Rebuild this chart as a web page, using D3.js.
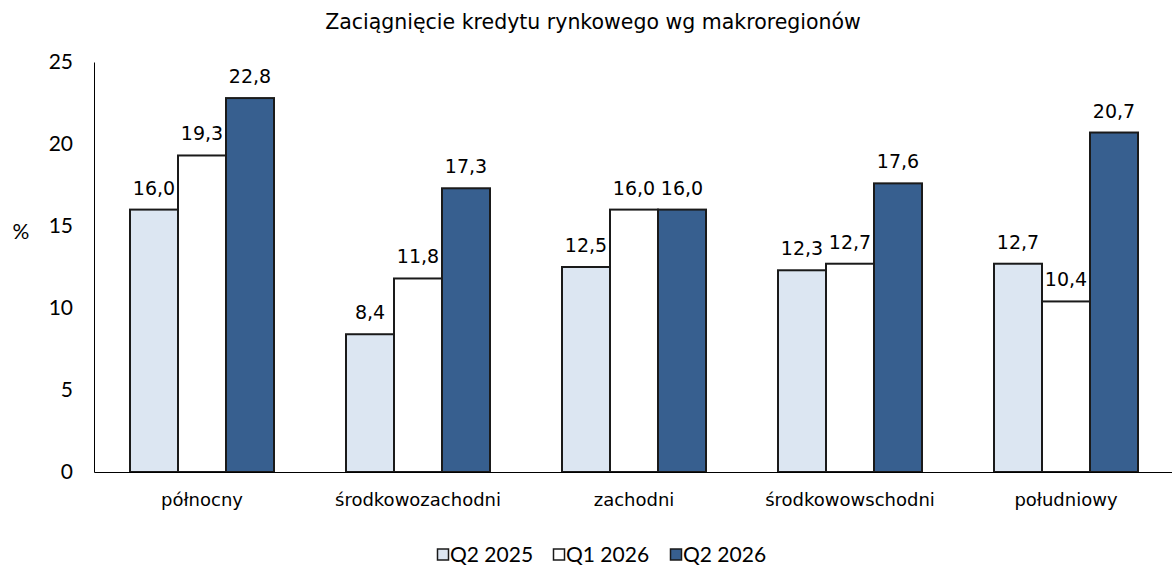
<!DOCTYPE html>
<html>
<head>
<meta charset="utf-8">
<script src="https://cdn.jsdelivr.net/npm/d3@7"></script>
<style>
  html, body { margin: 0; padding: 0; background: #fff; }
  svg { display: block; }
</style>
</head>
<body>
<svg id="chart" width="1172" height="571"></svg>
<script>
// Regions (makroregiony) and share of firms taking market credit, in %
const categories = ["północny", "środkowozachodni", "zachodni", "środkowowschodni", "południowy"];
const seriesNames = ["Q2 2025", "Q1 2026", "Q2 2026"];
const q2_2025 = [16.0, 8.4, 12.5, 12.3, 12.7];
const q1_2026 = [19.3, 11.8, 16.0, 12.7, 10.4];
const q2_2026 = [22.8, 17.3, 16.0, 17.6, 20.7];
const yTicks = [0, 5, 10, 15, 20, 25];
const title = "Zaciągnięcie kredytu rynkowego wg makroregionów";

const seriesValues = [q2_2025, q1_2026, q2_2026];
const fills = ["#dce6f2", "#ffffff", "#375f8f"];

const svg = d3.select("#chart");
const mainFont = "'DejaVu Sans', Verdana, sans-serif";
const numFont = "Lato, 'Open Sans', sans-serif";

const plot = { left: 94, right: 1174, top: 62, bottom: 472 };

const x0 = d3.scaleBand().domain(categories).range([plot.left, plot.right])
  .paddingInner(1 / 3).paddingOuter(1 / 6);
const x1 = d3.scaleBand().domain(seriesNames).range([0, x0.bandwidth()]);
const y = d3.scaleLinear().domain([0, 25]).range([plot.bottom, plot.top]);

// title
svg.append("text")
  .attr("x", 593).attr("y", 29)
  .attr("text-anchor", "middle")
  .style("font-family", mainFont).style("font-size", "20.5px")
  .attr("fill", "#000")
  .text(title);

// y axis (line and labels only)
const yAxis = d3.axisLeft(y).tickValues(yTicks).tickSize(0).tickPadding(21)
  .tickFormat(d3.format("d"));
const gy = svg.append("g").attr("transform", `translate(${plot.left},0)`).call(yAxis);
gy.select(".domain").attr("stroke", "#000").attr("stroke-width", 1);
gy.selectAll("text").style("font-family", numFont).style("font-size", "21px").attr("fill", "#000");

svg.append("text")
  .attr("x", 21).attr("y", 239)
  .attr("text-anchor", "middle")
  .style("font-family", numFont).style("font-size", "21px")
  .text("%");

// bars
const groups = svg.append("g").selectAll("g")
  .data(categories)
  .join("g")
  .attr("transform", d => `translate(${x0(d)},0)`);

groups.selectAll("rect")
  .data((c, i) => seriesNames.map((s, j) => ({ s, j, v: seriesValues[j][i] })))
  .join("rect")
  .attr("x", d => x1(d.s))
  .attr("y", d => y(d.v))
  .attr("width", x1.bandwidth())
  .attr("height", d => y(0) - y(d.v))
  .attr("fill", d => fills[d.j])
  .attr("stroke", "#1a1a1a")
  .attr("stroke-width", 2);

groups.selectAll("text.val")
  .data((c, i) => seriesNames.map((s, j) => ({ s, j, v: seriesValues[j][i] })))
  .join("text")
  .attr("class", "val")
  .attr("x", d => x1(d.s) + x1.bandwidth() / 2)
  .attr("y", d => y(d.v) - 15)
  .attr("text-anchor", "middle")
  .style("font-family", mainFont).style("font-size", "19px")
  .attr("fill", "#000")
  .text(d => d3.format(".1f")(d.v).replace(".", ","));

// x axis
const xAxis = d3.axisBottom(x0).tickSize(0).tickPadding(21);
const gx = svg.append("g").attr("transform", `translate(0,${plot.bottom})`).call(xAxis);
gx.select(".domain").attr("stroke", "#000").attr("stroke-width", 1);
gx.selectAll("text").style("font-family", mainFont).style("font-size", "18px").attr("fill", "#000");

// legend
const legendX = [437, 553, 670];
const legend = svg.append("g").selectAll("g")
  .data(seriesNames)
  .join("g")
  .attr("transform", (d, i) => `translate(${legendX[i]},555)`);
legend.append("rect")
  .attr("x", 0.5).attr("y", -6).attr("width", 11).attr("height", 11)
  .attr("fill", (d, i) => fills[i]).attr("stroke", "#1a1a1a").attr("stroke-width", 1.5);
legend.append("text")
  .attr("x", 13).attr("y", 7)
  .style("font-family", numFont).style("font-size", "21px")
  .text(d => d);
</script>
</body>
</html>
